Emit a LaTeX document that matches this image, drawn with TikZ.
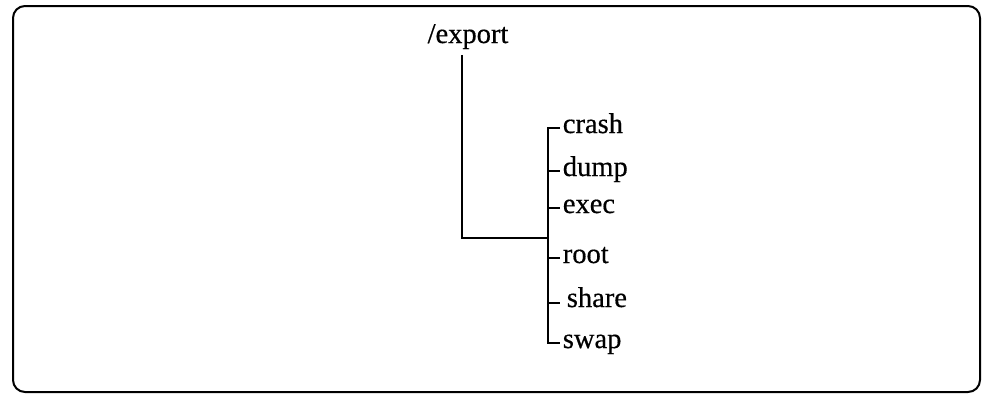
\documentclass[tikz,border=0pt]{standalone}
\usepackage{fontspec}
\setmainfont{Liberation Serif}[FakeBold=0.5]
\begin{document}
\begin{tikzpicture}[x=1pt,y=-1pt,line width=1.7pt,
  every node/.style={font=\fontsize{28.5}{32}\selectfont,inner sep=0pt},
  dirname/.style={anchor=base west},
  frame/.style={rounded corners=12pt,line width=2pt}]
\useasboundingbox (0,0) rectangle (985,394);
\draw[frame] (13,6) rectangle (980,392);

% parent directory
\node[anchor=base] (export) at (468,43) {/export};

% entries below it
\node[dirname] (crash) at (562,133) {crash};
\node[dirname] (dump)  at (562,176) {dump};
\node[dirname] (exec)  at (562,213) {exec};
\node[dirname] (root)  at (562,263) {root};
\node[dirname] (share) at (566,307) {share};
\node[dirname] (swap)  at (562,348) {swap};

\coordinate (elbow) at (462,238);
\coordinate (bus) at (548,0);

% trunk from the parent to the bus
\draw ([yshift=-5pt]export.south -| elbow) -- (elbow) -- (elbow -| bus);

% the bus, with its first and last branch
\draw ([xshift=-2pt,yshift=5pt]crash.base west) -| ([yshift=5pt]swap.base west -| bus)
      -- ([xshift=-2pt,yshift=5pt]swap.base west);

% the other branches
\foreach \n in {dump,exec,root}
  \draw ([yshift=5pt]\n.base west -| bus) -- ([xshift=-2pt,yshift=5pt]\n.base west);
\draw ([yshift=4pt]share.base west -| bus) -- ([xshift=-6pt,yshift=4pt]share.base west);
\end{tikzpicture}
\end{document}
